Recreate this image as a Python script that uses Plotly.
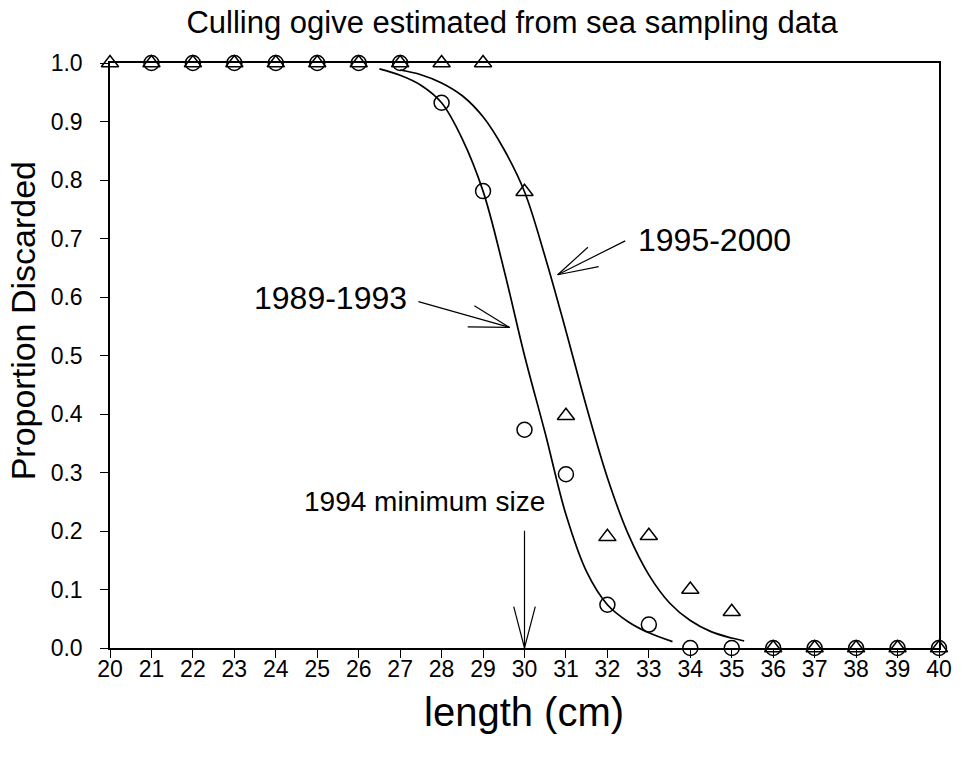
import plotly.graph_objects as go

# ---- data ----
lengths = [20, 21, 22, 23, 24, 25, 26, 27, 28, 29, 30, 31, 32, 33, 34, 35, 36, 37, 38, 39, 40]
obs_1989_1993 = [None, 1.0, 1.0, 1.0, 1.0, 1.0, 1.0, 1.0, 0.932, 0.781, 0.373, 0.297,
                 0.074, 0.040, 0.0, 0.0, 0.0, 0.0, 0.0, 0.0, 0.0]
obs_1995_2000 = [1.0, 1.0, 1.0, 1.0, 1.0, 1.0, 1.0, 1.0, 1.0, 1.0, 0.78, 0.397,
                 0.19, 0.192, 0.10, 0.062, 0.0, 0.0, 0.0, 0.0, 0.0]

fit_x_1989_1993 = [26.5, 27.0, 27.5, 28.0, 28.5, 29.0, 29.5, 30.0, 30.5, 31.0, 31.5,
                   32.0, 32.5, 33.0, 33.57]
fit_y_1989_1993 = [0.990, 0.979, 0.962, 0.932, 0.870, 0.781, 0.648, 0.500, 0.367, 0.228,
                   0.130, 0.074, 0.045, 0.026, 0.011]

fit_x_1995_2000 = [27.0, 27.5, 28.0, 28.5, 29.0, 29.5, 30.0, 30.5, 31.0, 31.5, 32.0,
                   32.5, 33.0, 33.5, 34.0, 34.5, 35.0, 35.3]
fit_y_1995_2000 = [0.988, 0.980, 0.966, 0.944, 0.908, 0.853, 0.780, 0.668, 0.542, 0.411,
                   0.291, 0.195, 0.125, 0.077, 0.047, 0.028, 0.017, 0.012]

x_ticks = list(range(20, 41))
y_ticks = [0.0, 0.1, 0.2, 0.3, 0.4, 0.5, 0.6, 0.7, 0.8, 0.9, 1.0]

FONT = "Liberation Sans, Arial, sans-serif"

fig = go.Figure()

for fx, fy in ((fit_x_1989_1993, fit_y_1989_1993), (fit_x_1995_2000, fit_y_1995_2000)):
    fig.add_trace(go.Scatter(x=fx, y=fy, mode="lines",
                             line=dict(color="black", width=1.7, shape="spline", smoothing=1.0),
                             hoverinfo="skip", showlegend=False))

fig.add_trace(go.Scatter(x=lengths, y=obs_1989_1993, mode="markers", name="1989-1993",
                         marker=dict(symbol="circle-open", size=15, color="black",
                                     line=dict(width=1.5, color="black")),
                         cliponaxis=False, showlegend=False))
fig.add_trace(go.Scatter(x=lengths, y=obs_1995_2000, mode="markers", name="1995-2000",
                         marker=dict(symbol="triangle-up-open", size=15, color="black",
                                     line=dict(width=1.5, color="black")),
                         cliponaxis=False, showlegend=False))

# arrows drawn as open-headed line shapes (data coordinates)
def arrow(x0, y0, x1, y1, b1, b2):
    segs = [(x0, y0, x1, y1), (b1[0], b1[1], x1, y1), (b2[0], b2[1], x1, y1)]
    for a, b, c, d in segs:
        fig.add_shape(type="line", x0=a, y0=b, x1=c, y1=d, xref="x", yref="y",
                      line=dict(color="black", width=1.2))

arrow(32.43, 0.696, 30.80, 0.638, (31.53, 0.685), (31.79, 0.652))
arrow(27.44, 0.592, 29.64, 0.548, (28.79, 0.585), (28.63, 0.549))
arrow(30.0, 0.2005, 30.0, 0.0, (29.74, 0.0706), (30.26, 0.0706))

fig.add_annotation(x=32.69, y=0.697, xref="x", yref="y", text="1995-2000", showarrow=False,
                   xanchor="left", yanchor="middle", font=dict(family=FONT, size=32, color="black"))
fig.add_annotation(x=27.22, y=0.598, xref="x", yref="y", text="1989-1993", showarrow=False,
                   xanchor="right", yanchor="middle", font=dict(family=FONT, size=32, color="black"))
fig.add_annotation(x=27.58, y=0.25, xref="x", yref="y", text="1994 minimum size", showarrow=False,
                   xanchor="center", yanchor="middle", font=dict(family=FONT, size=28, color="black"))

# axis titles as annotations
fig.add_annotation(x=0.499, y=-0.109, xref="paper", yref="paper", text="length (cm)",
                   showarrow=False, xanchor="center", yanchor="middle",
                   font=dict(family=FONT, size=40, color="black"))
fig.add_annotation(x=-0.105, y=0.56, xref="paper", yref="paper", text="Proportion Discarded",
                   showarrow=False, xanchor="center", yanchor="middle", textangle=-90,
                   font=dict(family=FONT, size=34, color="black"))

fig.update_layout(
    width=964, height=763,
    margin=dict(l=110, r=16, t=63, b=115),
    paper_bgcolor="white", plot_bgcolor="white",
    font=dict(family=FONT, color="black"),
    title=dict(text="Culling ogive estimated from sea sampling data", x=0.485, xref="paper",
               xanchor="center", y=1 - 22 / 763, yanchor="middle",
               font=dict(family=FONT, size=31, color="black")),
    showlegend=False,
)

fig.update_xaxes(range=[20, 40], tickvals=x_ticks, ticktext=[str(v) for v in x_ticks],
                 showgrid=False, zeroline=False, showline=True, linecolor="black", linewidth=1.5,
                 mirror=True, ticks="outside", ticklen=8, tickwidth=1.3, tickcolor="black",
                 ticklabelstandoff=-8, tickfont=dict(family=FONT, size=23, color="black"))
fig.update_yaxes(range=[0, 1], tickvals=y_ticks, ticktext=[f"{v:.1f}" for v in y_ticks],
                 showgrid=False, zeroline=False, showline=True, linecolor="black", linewidth=1.5,
                 mirror=True, ticks="outside", ticklen=8, tickwidth=1.3, tickcolor="black",
                 ticklabelstandoff=13, tickfont=dict(family=FONT, size=23, color="black"))

fig.write_html("out.html")
